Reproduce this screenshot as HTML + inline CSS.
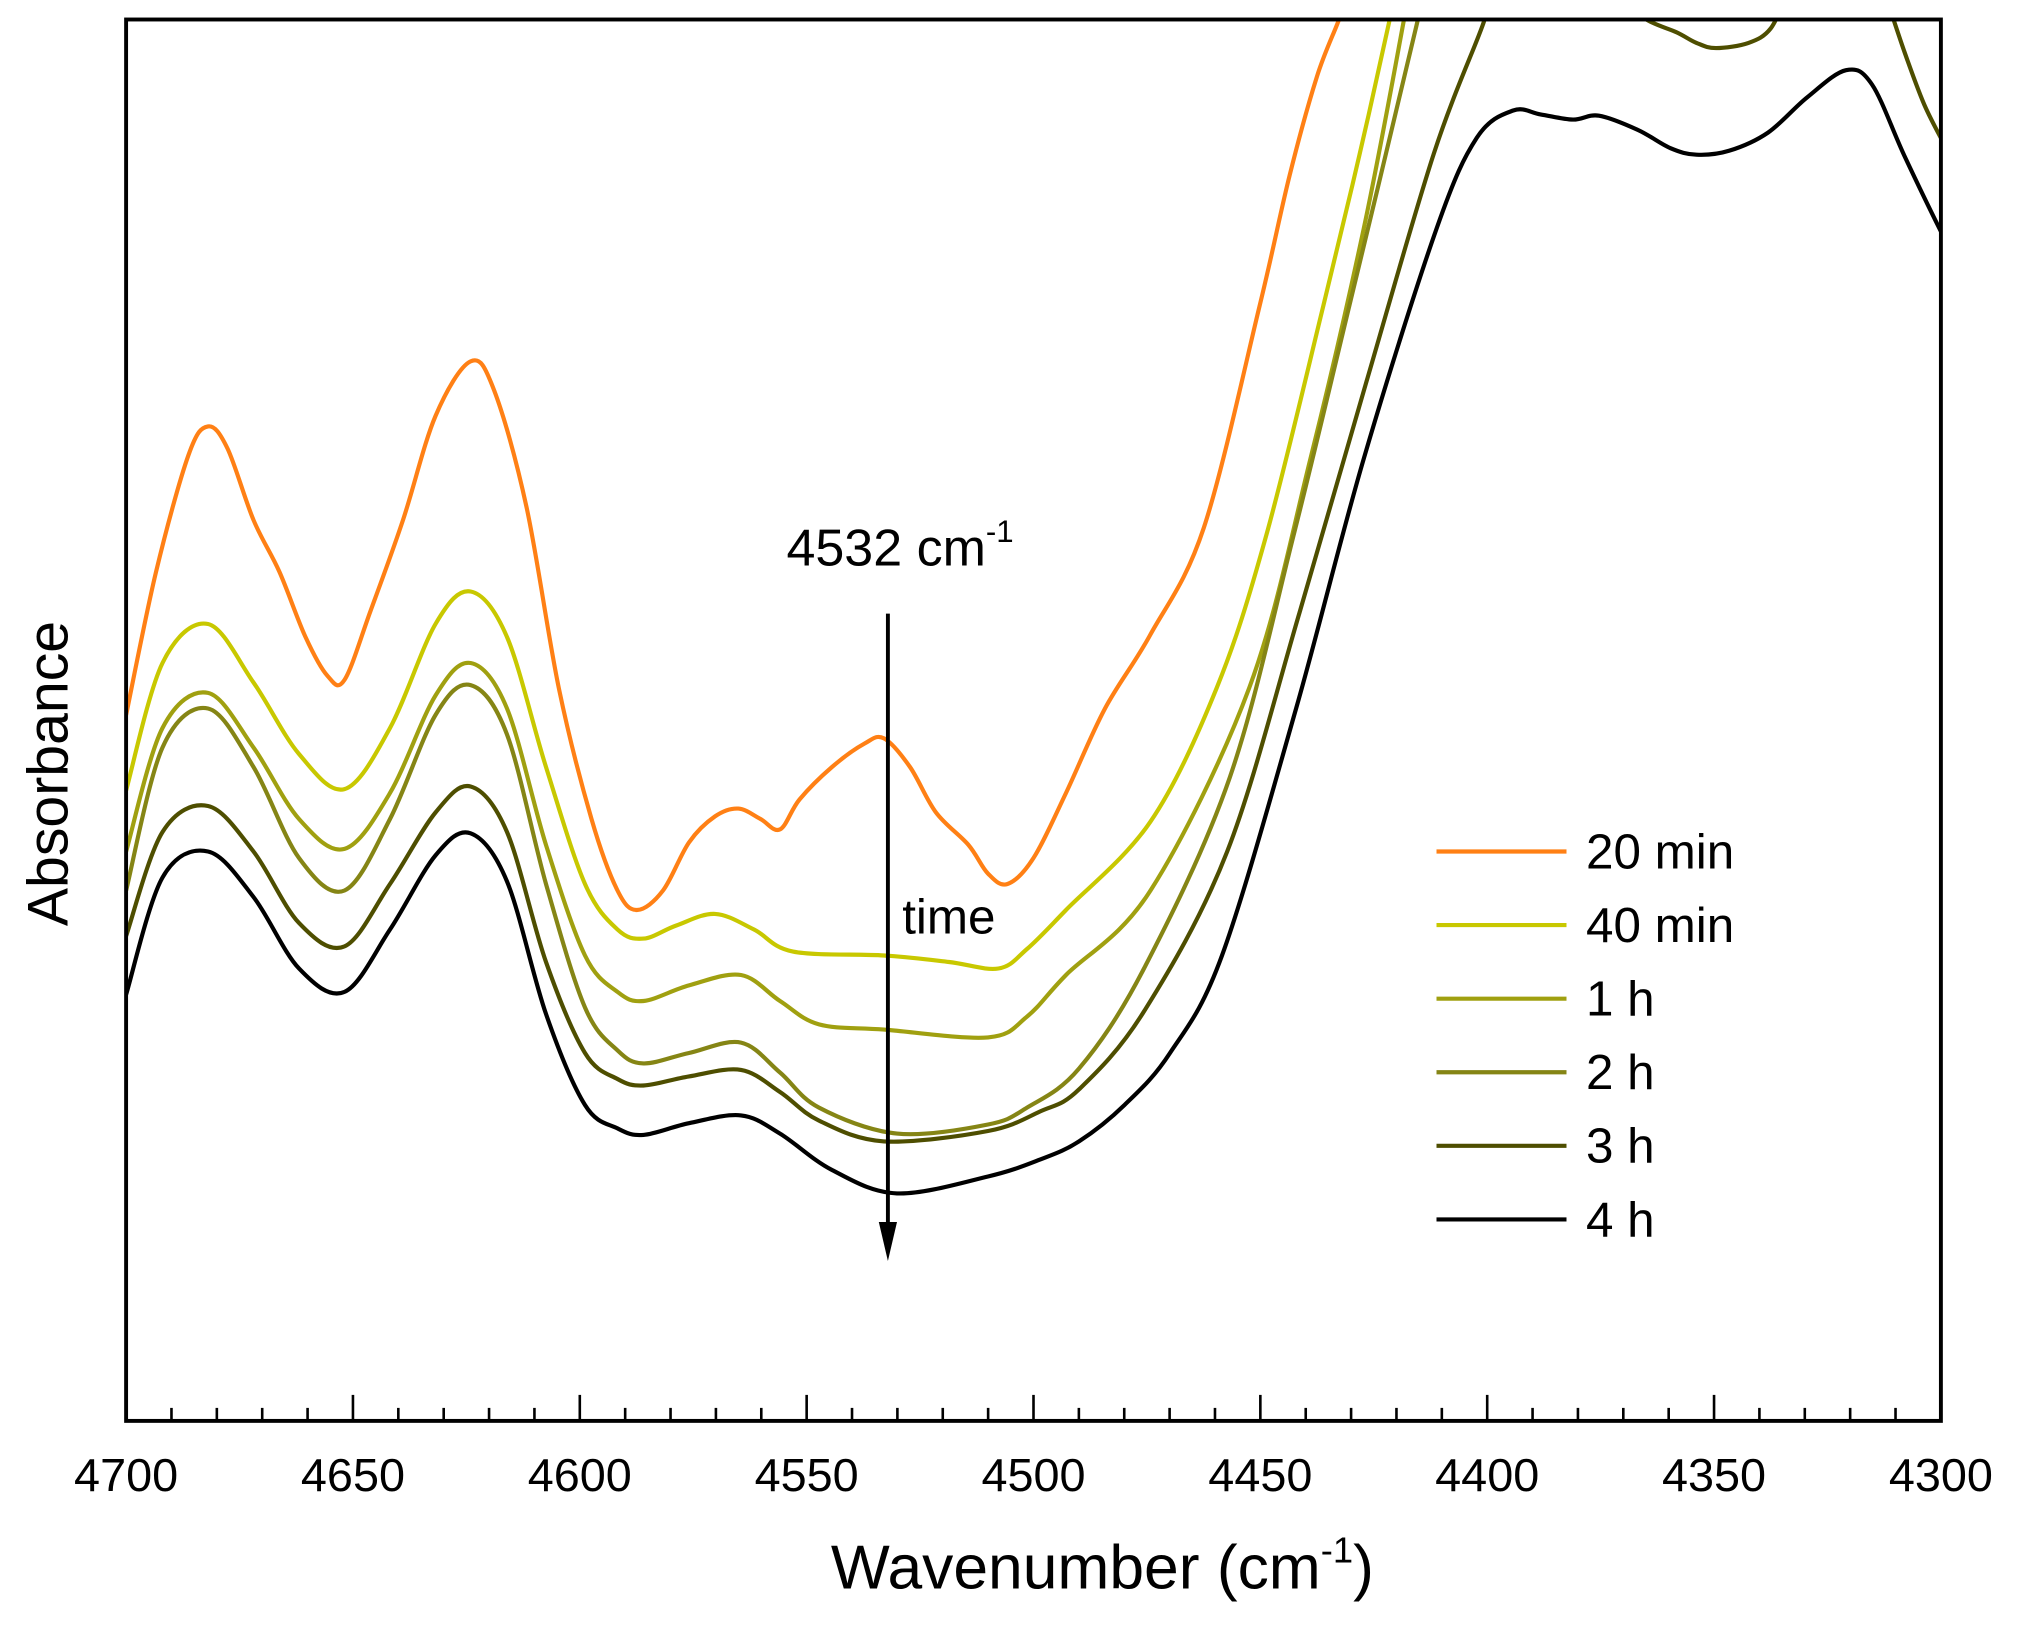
<!DOCTYPE html>
<html><head><meta charset="utf-8"><style>
html,body{margin:0;padding:0;background:#fff;width:2040px;height:1630px;overflow:hidden}
svg{display:block}
text{font-family:"Liberation Sans",Arial,sans-serif;fill:#000}
</style></head><body>
<svg id="s" width="2040" height="1630" viewBox="0 0 1569.23 1253.85">
<defs><clipPath id="c"><rect x="97" y="15" width="1396" height="1078"/></clipPath></defs>
<g id="curves" clip-path="url(#c)" fill="none" stroke-width="3.2" stroke-linejoin="round"></g>
<rect x="97" y="15" width="1396" height="1078" fill="none" stroke="#000" stroke-width="3"/>
<g id="ticks" stroke="#000" stroke-width="2"></g>
<g font-size="36" text-anchor="middle" id="tl"></g>
<text x="848" y="1222" font-size="48" text-anchor="middle">Wavenumber (cm<tspan dy="-20" font-size="28">-1</tspan><tspan dy="20">)</tspan></text>
<text transform="translate(52,595) rotate(-90)" font-size="44" text-anchor="middle">Absorbance</text>
<line x1="683" y1="472" x2="683" y2="950" stroke="#000" stroke-width="3"/>
<polygon points="676,940 690,940 683,970" fill="#000"/>
<text x="605" y="435" font-size="40">4532 cm<tspan dy="-18" font-size="24">-1</tspan></text>
<text x="694" y="718" font-size="38">time</text>
<g id="leg" font-size="38"></g>
</svg>
<script>
var S=[
["#FF8015",[[97,550],[120,440],[145,350],[160,328],[175,345],[195,400],[215,440],[235,490],[252,520],[265,523],[285,470],[310,400],[335,320],[362,278],[380,300],[405,390],[430,530],[455,630],[475,685],[490,700],[510,685],[530,648],[550,628],[568,622],[585,630],[600,638],[615,615],[640,590],[665,572],[680,568],[700,590],[720,625],[745,650],[760,672],[775,680],[795,660],[820,610],[850,545],[885,488],[926,406],[969,235],[992,135],[1013,59],[1030,15],[1036,-5]]],
["#C8C800",[[97,608],[125,510],[160,480],[195,525],[230,580],[265,607],[300,560],[335,480],[362,455],[390,490],[420,590],[450,680],[475,715],[495,722],[520,712],[550,703],[580,715],[610,732],[680,735],[730,740],[768,745],[790,730],[820,700],[885,632],[936,529],[974,412],[1018,235],[1046,118],[1069,15],[1072,-5]]],
["#A0A010",[[97,655],[125,560],[160,533],[195,575],[230,630],[265,653],[300,610],[335,535],[362,510],[390,545],[420,650],[450,735],[475,763],[495,770],[530,758],[570,750],[600,770],[630,788],[680,792],[760,798],[790,782],[820,750],[885,685],[961,529],[1008,353],[1049,176],[1080,15],[1083,-5]]],
["#858515",[[97,685],[125,575],[160,545],[195,590],[230,660],[265,685],[300,630],[335,550],[362,527],[390,565],[420,680],[450,775],[475,808],[495,818],[530,810],[570,802],[600,825],[630,852],[690,872],[760,865],[790,852],[830,822],[880,745],[946,598],[995,412],[1038,235],[1090,18],[1093,-5]]],
["#4E4E00",[[97,720],[125,640],[160,620],[195,655],[230,710],[265,728],[300,680],[335,625],[362,605],[390,640],[420,740],[450,810],[475,830],[495,835],[530,828],[570,823],[600,840],[630,862],[680,878],[760,870],[800,855],[830,838],[880,778],[944,655],[1000,470],[1051,294],[1103,118],[1141,18],[1146,-5]]],
["#4E4E00",[[1250,-5],[1265,14],[1290,25],[1305,33],[1320,37],[1345,33],[1362,22],[1375,-5]]],
["#4E4E00",[[1450,-5],[1465,40],[1480,80],[1495,110]]],
["#000000",[[97,765],[125,675],[160,655],[195,690],[230,745],[265,763],[300,715],[335,658],[362,641],[390,678],[420,780],[450,850],[475,868],[495,873],[530,864],[570,858],[600,872],[640,900],[690,918],[760,905],[800,892],[830,878],[865,850],[900,810],[940,735],[997,545],[1049,353],[1105,176],[1136,106],[1164,85],[1185,88],[1210,92],[1230,89],[1260,100],[1285,114],[1305,119],[1330,116],[1360,102],[1390,75],[1420,54],[1440,65],[1465,120],[1493,178],[1500,190]]]
];
function path(p){var d="M"+p[0][0]+","+p[0][1];for(var i=0;i<p.length-1;i++){var a=p[Math.max(i-1,0)],b=p[i],c=p[i+1],e=p[Math.min(i+2,p.length-1)];
d+=" C"+(b[0]+(c[0]-a[0])/6)+","+(b[1]+(c[1]-a[1])/6)+" "+(c[0]-(e[0]-b[0])/6)+","+(c[1]-(e[1]-b[1])/6)+" "+c[0]+","+c[1];}return d;}
var NS="http://www.w3.org/2000/svg",g=document.getElementById("curves");
S.forEach(function(s){var el=document.createElementNS(NS,"path");el.setAttribute("d",path(s[1]));el.setAttribute("stroke",s[0]);g.appendChild(el);});
var t=document.getElementById("ticks"),tl=document.getElementById("tl");
for(var w=4700;w>=4300;w-=10){var x=97+(4700-w)*3.49;var L=(w%50==0)?20:10;
var l=document.createElementNS(NS,"line");l.setAttribute("x1",x);l.setAttribute("x2",x);l.setAttribute("y1",1093);l.setAttribute("y2",1093-L);t.appendChild(l);
if(w%50==0){var tx=document.createElementNS(NS,"text");tx.setAttribute("x",x);tx.setAttribute("y",1147);tx.textContent=w;tl.appendChild(tx);}}
var lg=[["#FF8015","20 min"],["#C8C800","40 min"],["#A0A010","1 h"],["#858515","2 h"],["#4E4E00","3 h"],["#000000","4 h"]],G=document.getElementById("leg");
lg.forEach(function(v,i){var y=655+i*56.6;var l=document.createElementNS(NS,"line");l.setAttribute("x1",1105);l.setAttribute("x2",1205);l.setAttribute("y1",y);l.setAttribute("y2",y);l.setAttribute("stroke",v[0]);l.setAttribute("stroke-width",3.2);G.appendChild(l);
var tx=document.createElementNS(NS,"text");tx.setAttribute("x",1220);tx.setAttribute("y",y+13);tx.textContent=v[1];G.appendChild(tx);});
</script>
</body></html>
